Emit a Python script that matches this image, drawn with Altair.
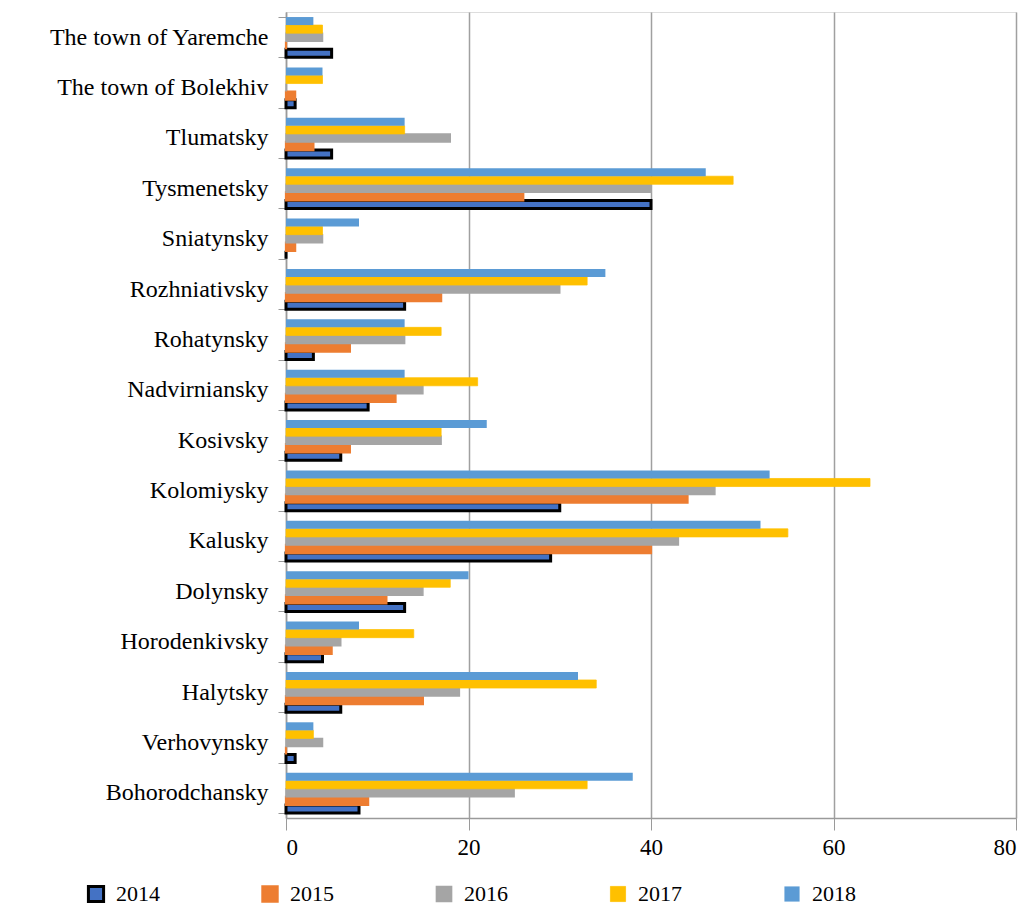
import altair as alt
import pandas as pd

categories = ["The town of Yaremche", "The town of Bolekhiv", "Tlumatsky", "Tysmenetsky",
              "Sniatynsky", "Rozhniativsky", "Rohatynsky", "Nadvirniansky", "Kosivsky",
              "Kolomiysky", "Kalusky", "Dolynsky", "Horodenkivsky", "Halytsky",
              "Verhovynsky", "Bohorodchansky"]
years = ["2014", "2015", "2016", "2017", "2018"]
v2014 = [5, 1, 5, 40, 0, 13, 3, 9, 6, 30, 29, 13, 4, 6, 1, 8]
v2015 = [0, 1, 3, 26, 1, 17, 7, 12, 7, 44, 40, 11, 5, 15, 0, 9]
v2016 = [4, 0, 18, 40, 4, 30, 13, 15, 17, 47, 43, 15, 6, 19, 4, 25]
v2017 = [4, 4, 13, 49, 4, 33, 17, 21, 17, 64, 55, 18, 14, 34, 3, 33]
v2018 = [3, 4, 13, 46, 8, 35, 13, 13, 22, 53, 52, 20, 8, 32, 3, 38]
x_ticks = [0, 20, 40, 60, 80]
colors = ["#4472C4", "#ED7D31", "#A5A5A5", "#FFC000", "#5B9BD5"]
strokes = ["#000000", "#ED7D31", "#A5A5A5", "#FFC000", "#5B9BD5"]
stroke_widths = [3, 0, 0, 0, 0]

series = [v2014, v2015, v2016, v2017, v2018]
rows = []
for yr, vals in zip(years, series):
    for c, v in zip(categories, vals):
        rows.append({"category": c, "year": yr, "value": v})
df = pd.DataFrame(rows)
legend_df = pd.DataFrame({"year": years})

FONT = "Liberation Serif"

fill_scale = alt.Scale(domain=years, range=colors)
stroke_scale = alt.Scale(domain=years, range=strokes)
sw_scale = alt.Scale(domain=years, range=stroke_widths)

bars = alt.Chart(df).mark_bar().encode(
    y=alt.Y("category:N", sort=categories,
            scale=alt.Scale(paddingInner=0.2, paddingOuter=0.1),
            axis=alt.Axis(title=None, tickBand="extent", labelFont=FONT, labelFontSize=24,
                          labelColor="#000000", labelPadding=10, tickSize=8,
                          tickColor="#9a9a9a", domainColor="#9a9a9a", domainWidth=1.5,
                          labelLimit=300)),
    x=alt.X("value:Q", scale=alt.Scale(domain=[0, 80], nice=False),
            axis=alt.Axis(title=None, values=x_ticks, labelFont=FONT, labelFontSize=23,
                          labelColor="#000000", tickSize=12, labelPadding=6,
                          tickColor="#9a9a9a", domainColor="#9a9a9a", domainWidth=1.5,
                          gridColor="#a0a0a0", gridWidth=1.5, grid=True)),
    yOffset=alt.YOffset("year:N", sort=list(reversed(years))),
    fill=alt.Fill("year:N", scale=fill_scale, legend=None),
    stroke=alt.Stroke("year:N", scale=stroke_scale, legend=None),
    strokeWidth=alt.StrokeWidth("year:N", scale=sw_scale, legend=None),
)

leg_x = alt.X("year:N", scale=alt.Scale(type="point", domain=years, range=[-190, 506],
                                        padding=0), axis=None)

leg_sym = alt.Chart(legend_df).mark_square(size=230, opacity=1).encode(
    x=leg_x,
    y=alt.value(882),
    fill=alt.Fill("year:N", scale=fill_scale, legend=None),
    stroke=alt.Stroke("year:N", scale=stroke_scale, legend=None),
    strokeWidth=alt.StrokeWidth("year:N", scale=sw_scale, legend=None),
)

leg_txt = alt.Chart(legend_df).mark_text(align="left", baseline="middle", dx=20, font=FONT,
                                         fontSize=22, color="#000000").encode(
    x=leg_x,
    y=alt.value(882),
    text="year:N",
)

legend = alt.layer(leg_sym, leg_txt)

chart = alt.layer(bars, legend).resolve_scale(x="independent").properties(
    width=730, height=806,
    autosize=alt.AutoSizeParams(type="none"),
    padding={"left": 278, "top": 4, "right": 10, "bottom": 94},
).configure_view(stroke=None).configure(background="white", font=FONT)

chart.save("out.html", embed_options={"renderer": "svg", "actions": False})
